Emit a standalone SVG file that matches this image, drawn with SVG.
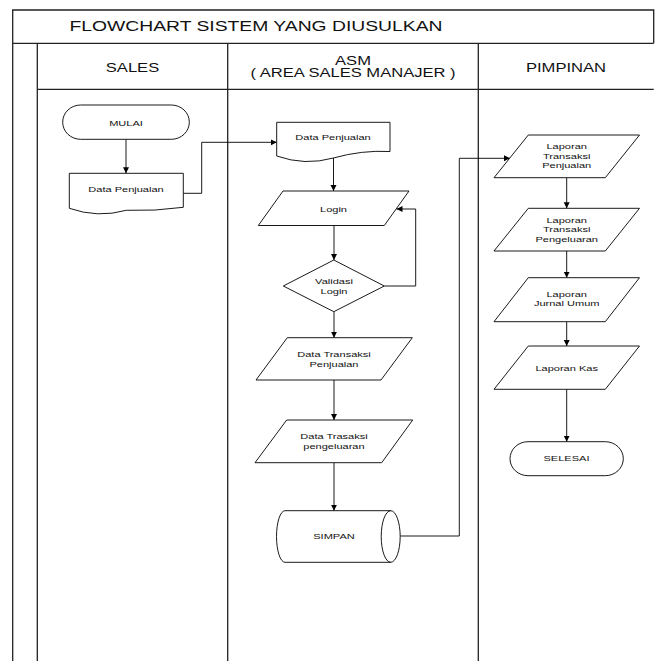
<svg xmlns="http://www.w3.org/2000/svg" width="657" height="661" viewBox="0 0 657 661">
<defs>
<marker id="arr" markerUnits="userSpaceOnUse" markerWidth="7" markerHeight="7" refX="6" refY="3" orient="auto">
<path d="M0,0 L6,3 L0,6 Z" fill="#000"/>
</marker>
<style>
.t{font-family:"Liberation Sans",Arial,sans-serif;fill:#111;text-anchor:middle;transform-box:fill-box;transform-origin:center;transform:scaleX(1.38)}
.s{font-size:8px}
.h{font-size:12px}
.ti{font-size:14px}
.frame{fill:none;stroke:#222;stroke-width:1.3}
.shape{fill:#fff;stroke:#000;stroke-width:0.9}
.conn{fill:none;stroke:#000;stroke-width:0.9}
.ca{marker-end:url(#arr)}
</style>
</defs>
<rect width="657" height="661" fill="#fff"/>
<g id="frame">
<path class="frame" d="M12.7,661 V10 H653.7 V43.3 M12.7,43.3 H653.7 M37.3,43.3 V661 M37.3,89.3 H653.7 M227.7,43.3 V661 M478.3,43.3 V661"/>
<text class="t ti" x="256" y="31">FLOWCHART SISTEM YANG DIUSULKAN</text>
<text class="t h" x="132.5" y="71.7">SALES</text>
<text class="t h" x="353" y="64.7">ASM</text>
<text class="t h" x="353" y="77.4">( AREA SALES MANAJER )</text>
<text class="t h" x="566" y="72">PIMPINAN</text>
</g>
<g id="connectors">
<path class="conn ca" d="M126,139.3 V173.3"/>
<path class="conn ca" d="M183.3,193.3 H201.7 V142.3 H276.7"/>
<path class="conn ca" d="M333.5,158 V191"/>
<path class="conn ca" d="M334,225.5 V260"/>
<path class="conn ca" d="M384.3,286 H415.7 V209 H396.5"/>
<path class="conn ca" d="M334,311.7 V337.7"/>
<path class="conn ca" d="M334,380 V420"/>
<path class="conn ca" d="M334,462.7 V510.7"/>
<path class="conn ca" d="M400.2,536 H459.3 V158.3 H510"/>
<path class="conn ca" d="M566.7,177.7 V208.3"/>
<path class="conn ca" d="M566.7,251 V277.7"/>
<path class="conn ca" d="M566.7,321.7 V346"/>
<path class="conn ca" d="M566.7,389.3 V441.7"/>
</g>
<g id="mulai">
<rect class="shape" x="62.7" y="105" width="126.6" height="34.3" rx="18" ry="17"/>
<text class="t s" x="126" y="125.6">MULAI</text>
</g>
<g id="data-penjualan-sales">
<path class="shape" d="M69.3,173.3 H183.3 V207.3 Q154.8,211.3 126.3,210.3 Q97.8,218.3 69.3,208.3 Z"/>
<text class="t s" x="126" y="192">Data Penjualan</text>
</g>
<g id="data-penjualan-asm">
<path class="shape" d="M276.7,122.3 H390 V151.5 Q361.7,150 333.4,158 Q305,166 276.7,156 Z"/>
<text class="t s" x="333" y="139.7">Data Penjualan</text>
</g>
<g id="login">
<polygon class="shape" points="283,191 409,191 384.3,225.5 258.3,225.5"/>
<text class="t s" x="333.5" y="212">Login</text>
</g>
<g id="validasi-login">
<polygon class="shape" points="333.8,260 384.3,286 333.8,311.7 283.3,286"/>
<text class="t s" x="334" y="284">Validasi</text>
<text class="t s" x="334" y="294">Login</text>
</g>
<g id="data-transaksi-penjualan">
<polygon class="shape" points="287.3,337.7 412.3,337.7 381,380 256,380"/>
<text class="t s" x="334" y="357">Data Transaksi</text>
<text class="t s" x="334" y="367">Penjualan</text>
</g>
<g id="data-trasaksi-pengeluaran">
<polygon class="shape" points="286.7,420 412.7,420 381.7,462.7 255,462.7"/>
<text class="t s" x="334" y="439.5">Data Trasaksi</text>
<text class="t s" x="334" y="449.5">pengeluaran</text>
</g>
<g id="simpan">
<path class="shape" d="M285,510.7 H390.7 A9.5,25.8 0 0 1 390.7,562.3 H285 A8.5,25.8 0 0 1 285,510.7 Z"/>
<path class="conn" d="M390.7,510.7 A9.5,25.8 0 0 0 390.7,562.3"/>
<text class="t s" x="334" y="539">SIMPAN</text>
</g>
<g id="laporan-transaksi-penjualan">
<polygon class="shape" points="528.3,135 639.5,135 605.3,177.7 494,177.7"/>
<text class="t s" x="566.7" y="149.5">Laporan</text>
<text class="t s" x="566.7" y="158.7">Transaksi</text>
<text class="t s" x="566.7" y="168">Penjualan</text>
</g>
<g id="laporan-transaksi-pengeluaran">
<polygon class="shape" points="528.3,208.3 639.5,208.3 605.3,251 494,251"/>
<text class="t s" x="566.7" y="223.5">Laporan</text>
<text class="t s" x="566.7" y="232.5">Transaksi</text>
<text class="t s" x="566.7" y="242">Pengeluaran</text>
</g>
<g id="laporan-jurnal-umum">
<polygon class="shape" points="528.3,277.7 639.5,277.7 605.3,321.7 494,321.7"/>
<text class="t s" x="566.7" y="297.3">Laporan</text>
<text class="t s" x="566.7" y="306.3">Jurnal Umum</text>
</g>
<g id="laporan-kas">
<polygon class="shape" points="528.3,346 639.5,346 605.3,389.3 494,389.3"/>
<text class="t s" x="566.7" y="371">Laporan Kas</text>
</g>
<g id="selesai">
<rect class="shape" x="510" y="441.7" width="113.3" height="34" rx="18" ry="17"/>
<text class="t s" x="566.5" y="461.3">SELESAI</text>
</g>
</svg>
